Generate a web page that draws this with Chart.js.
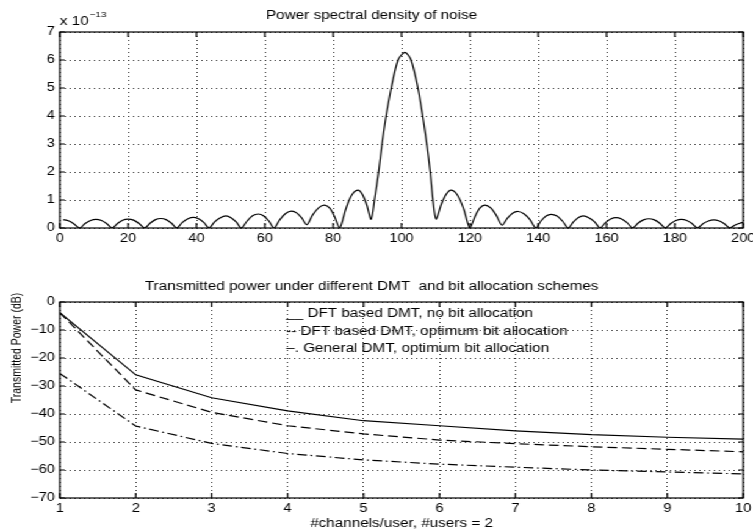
<!DOCTYPE html>
<html>
<head>
<meta charset="utf-8">
<script src="https://cdn.jsdelivr.net/npm/chart.js@4.4.0/dist/chart.umd.min.js"></script>
<style>
  html, body { margin: 0; padding: 0; background: #fff; }
  /* the original figure is stretched sideways, so draw narrow and scale up */
  #wrap { position: relative; width: 617px; height: 531px; transform: scaleX(1.2204); transform-origin: 0 0; }
  #wrap canvas { position: absolute; left: 0; }
  #psd { top: 0; }
  #power { top: 260px; }
</style>
</head>
<body>
<div id="wrap">
  <canvas id="psd" width="617" height="260"></canvas>
  <canvas id="power" width="617" height="271"></canvas>
</div>
<script>
// PSD of noise, values in units of 1e-13
const psdFreq = [
  1, 2.5, 4, 5.8,
  7.4, 9.0, 10.6, 12.2, 13.7, 15.3,
  16.9, 18.4, 20.0, 21.6, 23.2, 24.8,
  26.4, 28.0, 29.6, 31.1, 32.7, 34.2,
  35.8, 37.5, 39.1, 40.6, 42.2, 43.7,
  45.3, 47.0, 48.6, 50.1, 51.6, 53.1,
  54.8, 56.4, 58.1, 59.6, 61.2, 62.7,
  64.4, 66.1, 67.8, 69.3, 70.8, 72.3,
  74.0, 75.8, 77.5, 79.0, 80.4, 81.9,
  83.7, 85.4, 87.2, 88.5, 89.8, 91.1,
  92.1, 93.3, 94.3, 95.5, 97.0, 99.0, 101.0, 102.8, 104.8, 106.2, 107.4, 108.4, 109.2, 110.1,
  111.6, 113.1, 114.6, 116.4, 118.2, 120.0,
  121.5, 122.9, 124.4, 126.1, 127.7, 129.4,
  131.0, 132.5, 134.1, 135.8, 137.6, 139.3,
  140.8, 142.3, 143.8, 145.5, 147.1, 148.8,
  150.3, 151.7, 153.2, 154.8, 156.5, 158.1,
  159.7, 161.2, 162.8, 164.4, 166.0, 167.6,
  169.2, 170.8, 172.4, 174.0, 175.6, 177.2,
  178.8, 180.3, 181.9, 183.5, 185.0, 186.6,
  188.2, 189.8, 191.4, 193.0, 194.5, 196.1,
  197.5, 199.0, 200.0
];
const psdLevel = [
  0.30, 0.26, 0.16, 0,
  0.16, 0.27, 0.31, 0.27, 0.16, 0,
  0.16, 0.28, 0.32, 0.28, 0.16, 0,
  0.17, 0.30, 0.34, 0.30, 0.17, 0,
  0.19, 0.33, 0.38, 0.33, 0.19, 0,
  0.22, 0.37, 0.43, 0.37, 0.22, 0,
  0.25, 0.44, 0.50, 0.44, 0.25, 0,
  0.30, 0.52, 0.60, 0.54, 0.36, 0.12,
  0.47, 0.73, 0.82, 0.71, 0.41, 0,
  0.68, 1.17, 1.35, 1.21, 0.83, 0.31,
  1.0, 2.0, 3.0, 4.0, 5.0, 6.0, 6.27, 6.0, 5.0, 4.0, 3.0, 2.0, 1.0, 0.32,
  0.83, 1.21, 1.35, 1.17, 0.68, 0,
  0.41, 0.71, 0.82, 0.72, 0.46, 0.10,
  0.35, 0.53, 0.59, 0.51, 0.30, 0,
  0.25, 0.43, 0.49, 0.43, 0.25, 0,
  0.22, 0.37, 0.43, 0.37, 0.22, 0,
  0.19, 0.32, 0.37, 0.32, 0.19, 0,
  0.17, 0.29, 0.33, 0.29, 0.17, 0,
  0.16, 0.27, 0.31, 0.27, 0.16, 0,
  0.15, 0.25, 0.29, 0.25, 0.15, 0,
  0.10, 0.17, 0.20
];

// transmitted power (dB) against channels per user
const channels = [1, 2, 3, 4, 5, 6, 7, 8, 9, 10];
const powerDftNoAlloc = [-3.8, -26, -34.2, -38.9, -42.4, -44.2, -46, -47.4, -48.3, -49];
const powerDftOptAlloc = [-3.8, -31.4, -39.4, -44.2, -47.1, -49.3, -50.6, -51.7, -52.6, -53.5];
const powerGeneralOpt = [-25.5, -44.3, -50.5, -54.1, -56.4, -57.9, -59, -60, -60.7, -61.4];

const legendLabels = [
  '__ DFT based DMT, no bit allocation',
  '-- DFT based DMT, optimum bit allocation',
  '\u2013. General DMT, optimum bit allocation'
];

Chart.defaults.font.family = '"Liberation Sans", Arial, Helvetica, sans-serif';
Chart.defaults.color = '#000';

const FONT = '"Liberation Sans", Arial, Helvetica, sans-serif';

// solid box round the plot and short inward ticks on all four sides
const axesFrame = {
  id: 'axesFrame',
  afterDraw(chart) {
    const { ctx, chartArea: a, scales: { x, y } } = chart;
    ctx.save();
    ctx.strokeStyle = '#000';
    ctx.lineWidth = 1.2;
    ctx.strokeRect(a.left, a.top, a.right - a.left, a.bottom - a.top);
    ctx.beginPath();
    x.ticks.forEach(t => {
      const px = x.getPixelForValue(t.value);
      ctx.moveTo(px, a.bottom); ctx.lineTo(px, a.bottom - 5);
      ctx.moveTo(px, a.top); ctx.lineTo(px, a.top + 5);
    });
    y.ticks.forEach(t => {
      const py = y.getPixelForValue(t.value);
      ctx.moveTo(a.left, py); ctx.lineTo(a.left + 4, py);
      ctx.moveTo(a.right, py); ctx.lineTo(a.right - 4, py);
    });
    ctx.stroke();
    ctx.restore();
  }
};

// "x 10^-13" above the y axis
const exponentLabel = {
  id: 'exponentLabel',
  afterDraw(chart) {
    const { ctx, chartArea: a } = chart;
    ctx.save();
    ctx.fillStyle = '#000';
    ctx.textAlign = 'left';
    ctx.textBaseline = 'alphabetic';
    ctx.font = '12.5px ' + FONT;
    const base = 'x 10';
    ctx.fillText(base, a.left, 25);
    const w = ctx.measureText(base).width;
    ctx.font = '8px ' + FONT;
    ctx.fillText('\u221213', a.left + w + 1, 16.5);
    ctx.restore();
  }
};

// text legend and y label of the lower plot
const powerLabels = {
  id: 'powerLabels',
  afterDraw(chart) {
    const { ctx } = chart;
    ctx.save();
    ctx.fillStyle = '#000';
    ctx.font = '12.5px ' + FONT;
    ctx.textAlign = 'left';
    ctx.textBaseline = 'alphabetic';
    const rows = [57.3, 75, 91.7];
    legendLabels.forEach((txt, i) => ctx.fillText(txt, 234.5, rows[i]));
    ctx.translate(14.3, 88);
    ctx.rotate(-Math.PI / 2);
    ctx.font = '10.5px ' + FONT;
    ctx.textAlign = 'center';
    ctx.textBaseline = 'middle';
    ctx.fillText('Transmitted Power (dB)', 0, 0);
    ctx.restore();
  }
};

const minusSign = v => String(v).replace('-', '\u2212');

function gridScale(extra) {
  return Object.assign({
    type: 'linear',
    grid: { color: 'rgba(0,0,0,0.8)', lineWidth: 1, drawTicks: false },
    border: { display: false }
  }, extra);
}

new Chart(document.getElementById('psd'), {
  type: 'line',
  data: {
    datasets: [{
      data: psdFreq.map((f, i) => ({ x: f, y: psdLevel[i] })),
      borderColor: '#000',
      borderWidth: 1.2,
      pointRadius: 0,
      tension: 0.3
    }]
  },
  options: {
    responsive: false,
    animation: false,
    layout: { padding: { left: 0, right: 8, top: 0, bottom: 0 } },
    plugins: {
      legend: { display: false },
      tooltip: { enabled: false },
      title: {
        display: true,
        text: 'Power spectral density of noise',
        color: '#000',
        font: { size: 12.5, weight: 'normal' },
        padding: { top: 8.5, bottom: 8.5 }
      }
    },
    scales: {
      x: gridScale({
        min: 0, max: 200,
        ticks: { stepSize: 20, autoSkip: false, maxRotation: 0, padding: 3, font: { size: 12 } },
        border: { display: false, dash: [1, 3] },
        afterFit: s => { s.height = 32; s.paddingLeft = 0; s.paddingRight = 0; }
      }),
      y: gridScale({
        min: 0, max: 7,
        ticks: { stepSize: 1, padding: 4, font: { size: 12 } },
        border: { display: false, dash: [1, 3] },
        afterFit: s => { s.width = 49; s.paddingTop = 0; s.paddingBottom = 0; }
      })
    }
  },
  plugins: [axesFrame, exponentLabel]
});

new Chart(document.getElementById('power'), {
  type: 'line',
  data: {
    labels: channels,
    datasets: [
      {
        data: channels.map((c, i) => ({ x: c, y: powerDftNoAlloc[i] })),
        borderColor: '#000', borderWidth: 1.2, pointRadius: 0, tension: 0
      },
      {
        data: channels.map((c, i) => ({ x: c, y: powerDftOptAlloc[i] })),
        borderColor: '#000', borderWidth: 1.2, pointRadius: 0, tension: 0,
        borderDash: [8, 4]
      },
      {
        data: channels.map((c, i) => ({ x: c, y: powerGeneralOpt[i] })),
        borderColor: '#000', borderWidth: 1.2, pointRadius: 0, tension: 0,
        borderDash: [8, 3, 1.5, 3]
      }
    ]
  },
  options: {
    responsive: false,
    animation: false,
    layout: { padding: { left: 0, right: 8, top: 0, bottom: 0 } },
    plugins: {
      legend: { display: false },
      tooltip: { enabled: false },
      title: {
        display: true,
        text: 'Transmitted power under different DMT  and bit allocation schemes',
        color: '#000',
        font: { size: 12.5, weight: 'normal' },
        padding: { top: 18.7, bottom: 8.3 }
      }
    },
    scales: {
      x: gridScale({
        min: 1, max: 10,
        ticks: { stepSize: 1, autoSkip: false, maxRotation: 0, padding: 3, font: { size: 12 } },
        border: { display: false, dash: [1, 3] },
        title: {
          display: true,
          text: '#channels/user, #users = 2',
          font: { size: 12.5 },
          padding: { top: 0, bottom: 0 }
        },
        afterFit: s => { s.height = 33; s.paddingLeft = 0; s.paddingRight = 0; }
      }),
      y: gridScale({
        min: -70, max: 0,
        ticks: { stepSize: 10, padding: 4, font: { size: 12 }, callback: minusSign },
        border: { display: false, dash: [1, 3] },
        afterFit: s => { s.width = 49; s.paddingTop = 0; s.paddingBottom = 0; }
      })
    }
  },
  plugins: [axesFrame, powerLabels]
});
</script>
</body>
</html>
